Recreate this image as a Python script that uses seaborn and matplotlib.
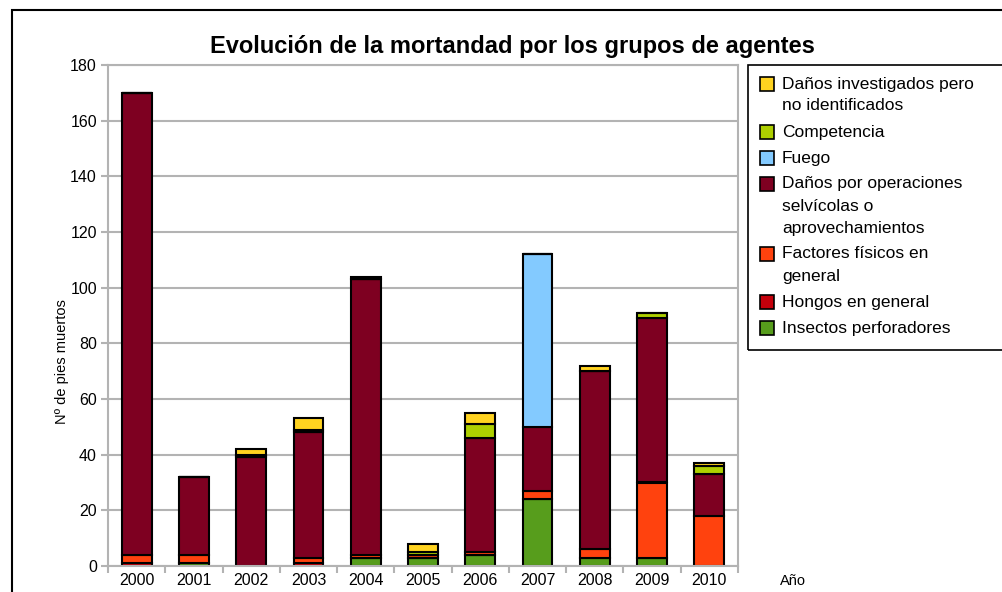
import seaborn as sns
import numpy as np
import pandas as pd
import matplotlib.pyplot as plt
from matplotlib.patches import Rectangle
from matplotlib.ticker import FixedLocator

years = ["2000", "2001", "2002", "2003", "2004", "2005", "2006", "2007", "2008", "2009", "2010"]

# stacking order, bottom to top
insectos = [0, 1, 0, 0, 3, 3, 4, 24, 3, 3, 0]
hongos = [1, 0, 0, 1, 0, 0, 0, 0, 0, 0, 0]
factores = [3, 3, 0, 2, 1, 1, 1, 3, 3, 27, 18]
operaciones = [166, 28, 39, 45, 99, 0, 41, 23, 64, 59, 15]
fuego = [0, 0, 0, 0, 0, 0, 0, 62, 0, 0, 0]
competencia = [0, 0, 1, 1, 0, 1, 5, 0, 0, 2, 3]
investigados = [0, 0, 2, 4, 1, 3, 4, 0, 2, 0, 1]

series = [
    ("Insectos perforadores", insectos, "#579d1c"),
    ("Hongos en general", hongos, "#c5000b"),
    ("Factores físicos en\ngeneral", factores, "#ff420e"),
    ("Daños por operaciones\nselvícolas o\naprovechamientos", operaciones, "#7e0021"),
    ("Fuego", fuego, "#83caff"),
    ("Competencia", competencia, "#aecf00"),
    ("Daños investigados pero\nno identificados", investigados, "#ffd320"),
]

sns.set_style("white", {"text.color": "black", "axes.labelcolor": "black",
                        "xtick.color": "black", "ytick.color": "black"})
plt.rcParams["font.family"] = ["Liberation Sans", "DejaVu Sans"]

W, H = 1003, 592
fig = plt.figure(figsize=(W / 100, H / 100), dpi=100)
ax = fig.add_axes([108 / W, 1 - 566 / H, 630 / W, 501 / H])

bottom = np.zeros(len(years))
for name, vals, color in series:
    df = pd.DataFrame({"year": years, "value": vals})
    sns.barplot(data=df, x="year", y="value", bottom=bottom, color=color,
                edgecolor="black", linewidth=1.5, width=0.52, ax=ax, saturation=1)
    bottom = bottom + np.array(vals)

ax.set_ylim(0, 180)
ax.set_xlim(-0.5, len(years) - 0.5)
ax.set_yticks(range(0, 181, 20))
ax.yaxis.grid(True, color="#b3b3b3", linewidth=1.5)
ax.set_axisbelow(True)
for s in ax.spines.values():
    s.set_color("#b3b3b3")
    s.set_linewidth(1.5)

ax.tick_params(axis="y", direction="out", length=5, width=1.5, color="#b3b3b3",
               labelcolor="black", labelsize=11.5, pad=3, left=True)
ax.tick_params(axis="x", which="major", length=0, labelsize=11.5, pad=5,
               labelcolor="black")
ax.xaxis.set_minor_locator(FixedLocator(np.arange(-0.5, len(years), 1)))
ax.tick_params(axis="x", which="minor", direction="out", length=5, width=1.5,
               color="#b3b3b3", bottom=True)

ax.set_xlabel("")
ax.set_ylabel("")
fig.text(62 / W, 1 - 362 / H, "Nº de pies muertos", fontsize=10.5, rotation=90,
         ha="center", va="center")
fig.text(780 / W, 1 - 581 / H, "Año", fontsize=10.5, ha="left", va="center")

fig.text(512 / W, 1 - 46 / H, "Evolución de la mortandad por los grupos de agentes",
         fontsize=17, fontweight="bold", ha="center", va="center")

# legend box drawn by hand so the swatch sits on the first line of each entry
fig.add_artist(Rectangle((748 / W, 1 - 350 / H), 260 / W, 285 / H,
                         transform=fig.transFigure, fill=False,
                         edgecolor="black", linewidth=1.2))
y = 84
for name, vals, color in reversed(series):
    fig.add_artist(Rectangle((760 / W, 1 - (y + 7) / H), 14 / W, 14 / H,
                             transform=fig.transFigure, facecolor=color,
                             edgecolor="black", linewidth=1.2))
    for line in name.split("\n"):
        fig.text(782 / W, 1 - y / H, line, fontsize=12.5, ha="left", va="center")
        y += 22
    y += 4

fig.add_artist(Rectangle((0.012, -0.01), 1.0, 0.993, transform=fig.transFigure,
                         fill=False, edgecolor="black", linewidth=1.5))

fig.savefig("out.png", dpi=100)
